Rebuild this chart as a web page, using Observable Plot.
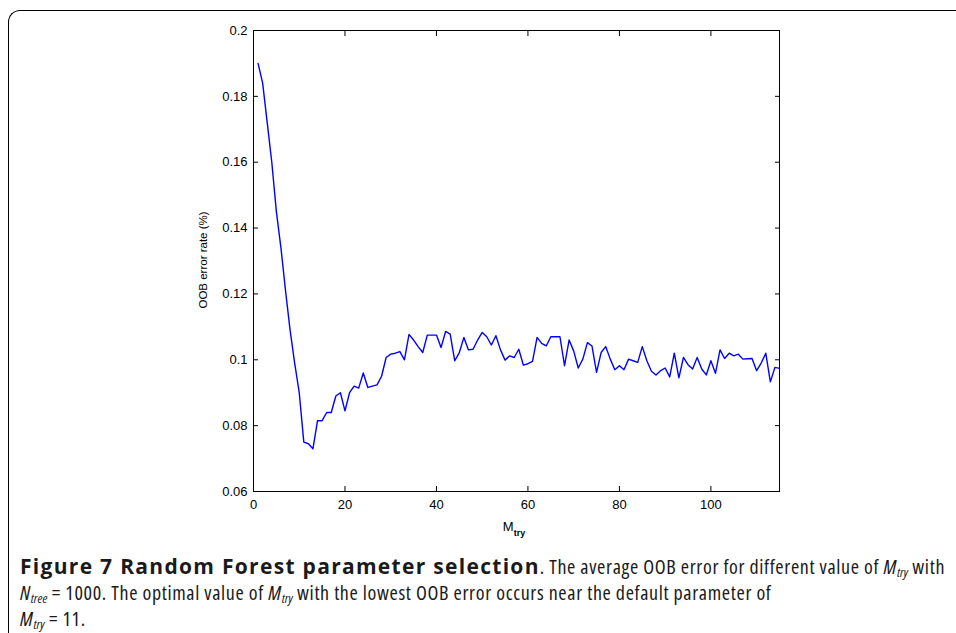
<!DOCTYPE html>
<html><head><meta charset="utf-8">
<script src="https://cdn.jsdelivr.net/npm/d3@7"></script>
<script src="https://cdn.jsdelivr.net/npm/@observablehq/plot@0.6"></script>
<style>
html,body{margin:0;padding:0;background:#fff}
body{width:956px;height:633px;overflow:hidden;position:relative;font-family:"Liberation Sans",Arial,sans-serif}
#frame{position:absolute;left:8px;top:10px;width:1000px;height:700px;border-top:1.5px solid #000;border-left:1.5px solid #000;border-top-left-radius:12px;box-sizing:border-box}
#chart{position:absolute;left:0;top:0}
#caption{position:absolute;left:20px;top:554px;width:936px;font-family:"Open Sans",sans-serif;font-size:20px;font-stretch:75%;letter-spacing:0.65px;line-height:26px;color:#1a1a1a;white-space:nowrap}
#caption b{font-size:21px;font-stretch:100%;letter-spacing:1.3px;line-height:0}
#caption sub{font-size:0.66em;vertical-align:-0.22em;line-height:0;letter-spacing:0}
</style>
</head><body>
<div id="frame"></div>
<div id="chart"></div>
<div id="caption"><b>Figure 7 Random Forest parameter selection</b>. The average OOB error for different value of <i>M<sub>try</sub></i> with<br><i>N<sub>tree</sub></i> = 1000. The optimal value of <i>M<sub>try</sub></i> with the lowest OOB error occurs near the default parameter of<br><i>M<sub>try</sub></i> = 11.</div>
<script>
// M_try values (1..115)
const mtry = d3.range(1, 116);
// Average OOB error rate
const oobError = [
  0.190, 0.184, 0.172, 0.160, 0.145, 0.134, 0.121, 0.109, 0.099, 0.090,
  0.075, 0.0745, 0.073, 0.0815, 0.0815, 0.084, 0.084, 0.089, 0.090, 0.0845,
  0.090, 0.092, 0.0914, 0.096, 0.0916, 0.092, 0.0924, 0.095, 0.1007, 0.1017,
  0.102, 0.1025, 0.100, 0.1077, 0.106, 0.104, 0.1022, 0.1075, 0.1075, 0.1075,
  0.1037, 0.1086, 0.1078, 0.0997, 0.1022, 0.1068, 0.103, 0.1032, 0.106, 0.1083,
  0.107, 0.1045, 0.1073, 0.103, 0.0999, 0.1012, 0.1007, 0.1032, 0.0984, 0.0988,
  0.0995, 0.1068, 0.105, 0.1042, 0.107, 0.107, 0.107, 0.0982, 0.106, 0.1027,
  0.0975, 0.1002, 0.1052, 0.1042, 0.0962, 0.1022, 0.104, 0.1002, 0.097, 0.0982,
  0.097, 0.1002, 0.0997, 0.0992, 0.104, 0.0997, 0.0965, 0.0954, 0.0967, 0.0975,
  0.0948, 0.102, 0.0945, 0.1007, 0.0985, 0.0972, 0.1007, 0.0972, 0.0954, 0.0997,
  0.0959, 0.103, 0.1004, 0.102, 0.1012, 0.1017, 0.1002, 0.1003, 0.1004, 0.0967,
  0.099, 0.102, 0.0933, 0.0977, 0.0974
];
const xTicks = [0, 20, 40, 60, 80, 100];
const yTicks = [0.06, 0.08, 0.1, 0.12, 0.14, 0.16, 0.18, 0.2];
const xDomain = [0, 115];
const yDomain = [0.06, 0.2];
const yLabel = "OOB error rate (%)";

const data = mtry.map((m, i) => ({m, e: oobError[i]}));
const fmt = d3.format("~g");

const plot = Plot.plot({
  width: 956,
  height: 545,
  marginLeft: 253,
  marginRight: 177,
  marginTop: 30,
  marginBottom: 54,
  style: {fontFamily: "'Liberation Sans', Arial, sans-serif", fontSize: "13px", color: "#000", background: "transparent", overflow: "visible"},
  x: {domain: xDomain},
  y: {domain: yDomain},
  marks: [
    Plot.frame({stroke: "#000", strokeWidth: 1}),
    Plot.axisX(xTicks, {anchor: "bottom", tickSize: -5, tickPadding: 13, label: null}),
    Plot.axisX(xTicks, {anchor: "top", tickSize: -5, tickFormat: () => "", label: null}),
    Plot.axisY(yTicks, {anchor: "left", tickSize: -5, tickPadding: 11, tickFormat: fmt, label: null}),
    Plot.axisY(yTicks, {anchor: "right", tickSize: -5, tickFormat: () => "", label: null}),
    Plot.line(data, {x: "m", y: "e", stroke: "#0000ff", strokeWidth: 1.4})
  ]
});
document.getElementById("chart").appendChild(plot);

const svg = d3.select(plot);
// y-axis label
svg.append("text")
  .attr("transform", "translate(207,260) rotate(-90)")
  .attr("text-anchor", "middle")
  .attr("font-size", 11.5)
  .attr("fill", "#000")
  .text(yLabel);
// x-axis label with subscript
const xl = svg.append("text")
  .attr("x", 514).attr("y", 531)
  .attr("text-anchor", "middle")
  .attr("font-size", 13)
  .attr("fill", "#000");
xl.append("tspan").text("M");
xl.append("tspan").attr("font-size", 9).attr("font-weight", "bold").attr("dy", 5).text("try");
</script>
</body></html>
